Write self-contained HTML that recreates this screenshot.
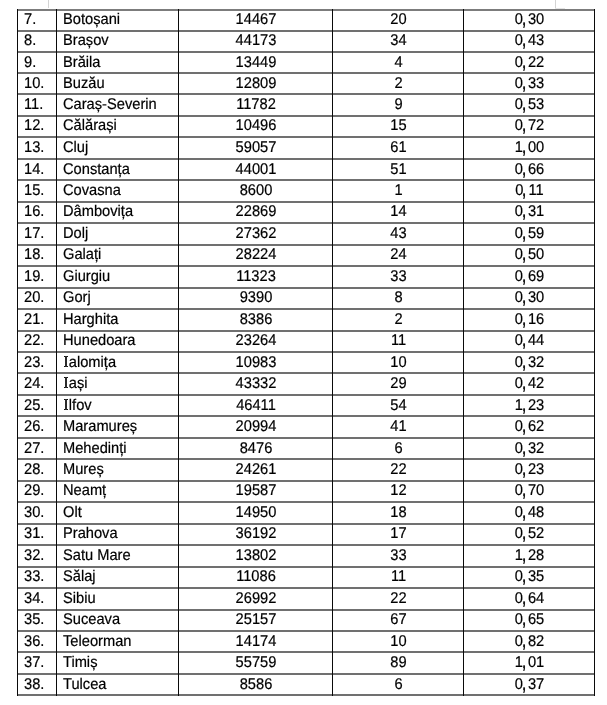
<!DOCTYPE html>
<html><head><meta charset="utf-8"><style>
html,body{margin:0;padding:0;background:#fff;}
body{width:607px;height:705px;position:relative;overflow:hidden;font-family:"Liberation Sans",sans-serif;font-size:14.67px;color:#000;text-rendering:geometricPrecision;}
.h{position:absolute;height:2px;background:#707070;left:17px;width:578px;}
.v{position:absolute;width:1px;background:#0a0a0a;}
.t{position:absolute;white-space:nowrap;line-height:16px;height:16px;transform:scaleY(1.06);transform-origin:0 13px;-webkit-text-stroke:0.2px #000;}
.n{letter-spacing:0px;}
.c{text-align:center;}
.cm{display:inline-block;margin-left:-1.2px;margin-right:2.2px;transform:scale(1.15,1.35);transform-origin:50% 10px;}
.t{will-change:transform;}
.m{position:absolute;background:#d4d4d4;}
.I{display:inline-block;width:5.8px;height:1px;}
.Ig{position:absolute;background:#111;}
</style></head><body>

<div class="m" style="left:48px;top:0;width:1px;height:8px"></div>
<div class="m" style="left:555px;top:0;width:1px;height:8px"></div>
<div class="m" style="left:555px;top:8px;width:10px;height:1px;background:#e4e4e4"></div>
<div class="h" style="top:9px;background:#7c7c7c"></div>
<div class="h" style="top:30px"></div>
<div class="h" style="top:51px"></div>
<div class="h" style="top:72px"></div>
<div class="h" style="top:93px"></div>
<div class="h" style="top:115px"></div>
<div class="h" style="top:136px"></div>
<div class="h" style="top:158px"></div>
<div class="h" style="top:179px"></div>
<div class="h" style="top:201px"></div>
<div class="h" style="top:222px"></div>
<div class="h" style="top:244px"></div>
<div class="h" style="top:265px"></div>
<div class="h" style="top:287px"></div>
<div class="h" style="top:308px"></div>
<div class="h" style="top:330px"></div>
<div class="h" style="top:351px"></div>
<div class="h" style="top:372px"></div>
<div class="h" style="top:394px"></div>
<div class="h" style="top:415px"></div>
<div class="h" style="top:437px"></div>
<div class="h" style="top:458px"></div>
<div class="h" style="top:480px"></div>
<div class="h" style="top:501px"></div>
<div class="h" style="top:523px"></div>
<div class="h" style="top:544px"></div>
<div class="h" style="top:566px"></div>
<div class="h" style="top:587px"></div>
<div class="h" style="top:609px"></div>
<div class="h" style="top:630px"></div>
<div class="h" style="top:651px"></div>
<div class="h" style="top:673px"></div>
<div class="h" style="top:694px"></div>
<div class="v" style="left:17px;top:9px;height:687px"></div>
<div class="v" style="left:56px;top:9px;height:687px"></div>
<div class="v" style="left:178px;top:9px;height:687px"></div>
<div class="v" style="left:332px;top:9px;height:687px"></div>
<div class="v" style="left:463px;top:9px;height:687px"></div>
<div class="v" style="left:594px;top:9px;height:687px"></div>
<div class="t" style="top:12px;left:24px">7.</div>
<div class="t n" style="top:12px;left:63px">Botoșani</div>
<div class="t c" style="top:12px;left:179px;width:154px">14467</div>
<div class="t c" style="top:12px;left:333px;width:131px">20</div>
<div class="t c" style="top:12px;left:463.9px;width:131px">0<span class="cm">,</span>30</div>
<div class="t" style="top:33px;left:24px">8.</div>
<div class="t n" style="top:33px;left:63px">Brașov</div>
<div class="t c" style="top:33px;left:179px;width:154px">44173</div>
<div class="t c" style="top:33px;left:333px;width:131px">34</div>
<div class="t c" style="top:33px;left:463.9px;width:131px">0<span class="cm">,</span>43</div>
<div class="t" style="top:55px;left:24px">9.</div>
<div class="t n" style="top:55px;left:63px">Brăila</div>
<div class="t c" style="top:55px;left:179px;width:154px">13449</div>
<div class="t c" style="top:55px;left:333px;width:131px">4</div>
<div class="t c" style="top:55px;left:463.9px;width:131px">0<span class="cm">,</span>22</div>
<div class="t" style="top:76px;left:24px">10.</div>
<div class="t n" style="top:76px;left:63px">Buzău</div>
<div class="t c" style="top:76px;left:179px;width:154px">12809</div>
<div class="t c" style="top:76px;left:333px;width:131px">2</div>
<div class="t c" style="top:76px;left:463.9px;width:131px">0<span class="cm">,</span>33</div>
<div class="t" style="top:97px;left:24px">11.</div>
<div class="t n" style="top:97px;left:63px">Caraș-Severin</div>
<div class="t c" style="top:97px;left:179px;width:154px">11782</div>
<div class="t c" style="top:97px;left:333px;width:131px">9</div>
<div class="t c" style="top:97px;left:463.9px;width:131px">0<span class="cm">,</span>53</div>
<div class="t" style="top:118px;left:24px">12.</div>
<div class="t n" style="top:118px;left:63px">Călărași</div>
<div class="t c" style="top:118px;left:179px;width:154px">10496</div>
<div class="t c" style="top:118px;left:333px;width:131px">15</div>
<div class="t c" style="top:118px;left:463.9px;width:131px">0<span class="cm">,</span>72</div>
<div class="t" style="top:140px;left:24px">13.</div>
<div class="t n" style="top:140px;left:63px">Cluj</div>
<div class="t c" style="top:140px;left:179px;width:154px">59057</div>
<div class="t c" style="top:140px;left:333px;width:131px">61</div>
<div class="t c" style="top:140px;left:463.9px;width:131px">1<span class="cm">,</span>00</div>
<div class="t" style="top:162px;left:24px">14.</div>
<div class="t n" style="top:162px;left:63px">Constanța</div>
<div class="t c" style="top:162px;left:179px;width:154px">44001</div>
<div class="t c" style="top:162px;left:333px;width:131px">51</div>
<div class="t c" style="top:162px;left:463.9px;width:131px">0<span class="cm">,</span>66</div>
<div class="t" style="top:183px;left:24px">15.</div>
<div class="t n" style="top:183px;left:63px">Covasna</div>
<div class="t c" style="top:183px;left:179px;width:154px">8600</div>
<div class="t c" style="top:183px;left:333px;width:131px">1</div>
<div class="t c" style="top:183px;left:463.9px;width:131px">0<span class="cm">,</span>11</div>
<div class="t" style="top:204px;left:24px">16.</div>
<div class="t n" style="top:204px;left:63px">Dâmbovița</div>
<div class="t c" style="top:204px;left:179px;width:154px">22869</div>
<div class="t c" style="top:204px;left:333px;width:131px">14</div>
<div class="t c" style="top:204px;left:463.9px;width:131px">0<span class="cm">,</span>31</div>
<div class="t" style="top:226px;left:24px">17.</div>
<div class="t n" style="top:226px;left:63px">Dolj</div>
<div class="t c" style="top:226px;left:179px;width:154px">27362</div>
<div class="t c" style="top:226px;left:333px;width:131px">43</div>
<div class="t c" style="top:226px;left:463.9px;width:131px">0<span class="cm">,</span>59</div>
<div class="t" style="top:247px;left:24px">18.</div>
<div class="t n" style="top:247px;left:63px">Galați</div>
<div class="t c" style="top:247px;left:179px;width:154px">28224</div>
<div class="t c" style="top:247px;left:333px;width:131px">24</div>
<div class="t c" style="top:247px;left:463.9px;width:131px">0<span class="cm">,</span>50</div>
<div class="t" style="top:269px;left:24px">19.</div>
<div class="t n" style="top:269px;left:63px">Giurgiu</div>
<div class="t c" style="top:269px;left:179px;width:154px">11323</div>
<div class="t c" style="top:269px;left:333px;width:131px">33</div>
<div class="t c" style="top:269px;left:463.9px;width:131px">0<span class="cm">,</span>69</div>
<div class="t" style="top:290px;left:24px">20.</div>
<div class="t n" style="top:290px;left:63px">Gorj</div>
<div class="t c" style="top:290px;left:179px;width:154px">9390</div>
<div class="t c" style="top:290px;left:333px;width:131px">8</div>
<div class="t c" style="top:290px;left:463.9px;width:131px">0<span class="cm">,</span>30</div>
<div class="t" style="top:312px;left:24px">21.</div>
<div class="t n" style="top:312px;left:63px">Harghita</div>
<div class="t c" style="top:312px;left:179px;width:154px">8386</div>
<div class="t c" style="top:312px;left:333px;width:131px">2</div>
<div class="t c" style="top:312px;left:463.9px;width:131px">0<span class="cm">,</span>16</div>
<div class="t" style="top:333px;left:24px">22.</div>
<div class="t n" style="top:333px;left:63px">Hunedoara</div>
<div class="t c" style="top:333px;left:179px;width:154px">23264</div>
<div class="t c" style="top:333px;left:333px;width:131px">11</div>
<div class="t c" style="top:333px;left:463.9px;width:131px">0<span class="cm">,</span>44</div>
<div class="t" style="top:355px;left:24px">23.</div>
<div class="Ig" style="left:64px;top:356px;width:4px;height:1px"></div>
<div class="Ig" style="left:64px;top:366px;width:4px;height:1px"></div>
<div class="Ig" style="left:65px;top:356px;width:2px;height:11px;background:#2a2a2a"></div>
<div class="t n" style="top:355px;left:63px"><span class="I"></span>alomița</div>
<div class="t c" style="top:355px;left:179px;width:154px">10983</div>
<div class="t c" style="top:355px;left:333px;width:131px">10</div>
<div class="t c" style="top:355px;left:463.9px;width:131px">0<span class="cm">,</span>32</div>
<div class="t" style="top:376px;left:24px">24.</div>
<div class="Ig" style="left:64px;top:377px;width:4px;height:1px"></div>
<div class="Ig" style="left:64px;top:387px;width:4px;height:1px"></div>
<div class="Ig" style="left:65px;top:377px;width:2px;height:11px;background:#2a2a2a"></div>
<div class="t n" style="top:376px;left:63px"><span class="I"></span>ași</div>
<div class="t c" style="top:376px;left:179px;width:154px">43332</div>
<div class="t c" style="top:376px;left:333px;width:131px">29</div>
<div class="t c" style="top:376px;left:463.9px;width:131px">0<span class="cm">,</span>42</div>
<div class="t" style="top:398px;left:24px">25.</div>
<div class="Ig" style="left:64px;top:399px;width:4px;height:1px"></div>
<div class="Ig" style="left:64px;top:409px;width:4px;height:1px"></div>
<div class="Ig" style="left:65px;top:399px;width:2px;height:11px;background:#2a2a2a"></div>
<div class="t n" style="top:398px;left:63px"><span class="I"></span>lfov</div>
<div class="t c" style="top:398px;left:179px;width:154px">46411</div>
<div class="t c" style="top:398px;left:333px;width:131px">54</div>
<div class="t c" style="top:398px;left:463.9px;width:131px">1<span class="cm">,</span>23</div>
<div class="t" style="top:419px;left:24px">26.</div>
<div class="t n" style="top:419px;left:63px">Maramureș</div>
<div class="t c" style="top:419px;left:179px;width:154px">20994</div>
<div class="t c" style="top:419px;left:333px;width:131px">41</div>
<div class="t c" style="top:419px;left:463.9px;width:131px">0<span class="cm">,</span>62</div>
<div class="t" style="top:441px;left:24px">27.</div>
<div class="t n" style="top:441px;left:63px">Mehedinți</div>
<div class="t c" style="top:441px;left:179px;width:154px">8476</div>
<div class="t c" style="top:441px;left:333px;width:131px">6</div>
<div class="t c" style="top:441px;left:463.9px;width:131px">0<span class="cm">,</span>32</div>
<div class="t" style="top:462px;left:24px">28.</div>
<div class="t n" style="top:462px;left:63px">Mureș</div>
<div class="t c" style="top:462px;left:179px;width:154px">24261</div>
<div class="t c" style="top:462px;left:333px;width:131px">22</div>
<div class="t c" style="top:462px;left:463.9px;width:131px">0<span class="cm">,</span>23</div>
<div class="t" style="top:483px;left:24px">29.</div>
<div class="t n" style="top:483px;left:63px">Neamț</div>
<div class="t c" style="top:483px;left:179px;width:154px">19587</div>
<div class="t c" style="top:483px;left:333px;width:131px">12</div>
<div class="t c" style="top:483px;left:463.9px;width:131px">0<span class="cm">,</span>70</div>
<div class="t" style="top:505px;left:24px">30.</div>
<div class="t n" style="top:505px;left:63px">Olt</div>
<div class="t c" style="top:505px;left:179px;width:154px">14950</div>
<div class="t c" style="top:505px;left:333px;width:131px">18</div>
<div class="t c" style="top:505px;left:463.9px;width:131px">0<span class="cm">,</span>48</div>
<div class="t" style="top:526px;left:24px">31.</div>
<div class="t n" style="top:526px;left:63px">Prahova</div>
<div class="t c" style="top:526px;left:179px;width:154px">36192</div>
<div class="t c" style="top:526px;left:333px;width:131px">17</div>
<div class="t c" style="top:526px;left:463.9px;width:131px">0<span class="cm">,</span>52</div>
<div class="t" style="top:548px;left:24px">32.</div>
<div class="t n" style="top:548px;left:63px">Satu Mare</div>
<div class="t c" style="top:548px;left:179px;width:154px">13802</div>
<div class="t c" style="top:548px;left:333px;width:131px">33</div>
<div class="t c" style="top:548px;left:463.9px;width:131px">1<span class="cm">,</span>28</div>
<div class="t" style="top:569px;left:24px">33.</div>
<div class="t n" style="top:569px;left:63px">Sălaj</div>
<div class="t c" style="top:569px;left:179px;width:154px">11086</div>
<div class="t c" style="top:569px;left:333px;width:131px">11</div>
<div class="t c" style="top:569px;left:463.9px;width:131px">0<span class="cm">,</span>35</div>
<div class="t" style="top:591px;left:24px">34.</div>
<div class="t n" style="top:591px;left:63px">Sibiu</div>
<div class="t c" style="top:591px;left:179px;width:154px">26992</div>
<div class="t c" style="top:591px;left:333px;width:131px">22</div>
<div class="t c" style="top:591px;left:463.9px;width:131px">0<span class="cm">,</span>64</div>
<div class="t" style="top:612px;left:24px">35.</div>
<div class="t n" style="top:612px;left:63px">Suceava</div>
<div class="t c" style="top:612px;left:179px;width:154px">25157</div>
<div class="t c" style="top:612px;left:333px;width:131px">67</div>
<div class="t c" style="top:612px;left:463.9px;width:131px">0<span class="cm">,</span>65</div>
<div class="t" style="top:634px;left:24px">36.</div>
<div class="t n" style="top:634px;left:63px">Teleorman</div>
<div class="t c" style="top:634px;left:179px;width:154px">14174</div>
<div class="t c" style="top:634px;left:333px;width:131px">10</div>
<div class="t c" style="top:634px;left:463.9px;width:131px">0<span class="cm">,</span>82</div>
<div class="t" style="top:655px;left:24px">37.</div>
<div class="t n" style="top:655px;left:63px">Timiș</div>
<div class="t c" style="top:655px;left:179px;width:154px">55759</div>
<div class="t c" style="top:655px;left:333px;width:131px">89</div>
<div class="t c" style="top:655px;left:463.9px;width:131px">1<span class="cm">,</span>01</div>
<div class="t" style="top:677px;left:24px">38.</div>
<div class="t n" style="top:677px;left:63px">Tulcea</div>
<div class="t c" style="top:677px;left:179px;width:154px">8586</div>
<div class="t c" style="top:677px;left:333px;width:131px">6</div>
<div class="t c" style="top:677px;left:463.9px;width:131px">0<span class="cm">,</span>37</div>
</body></html>
